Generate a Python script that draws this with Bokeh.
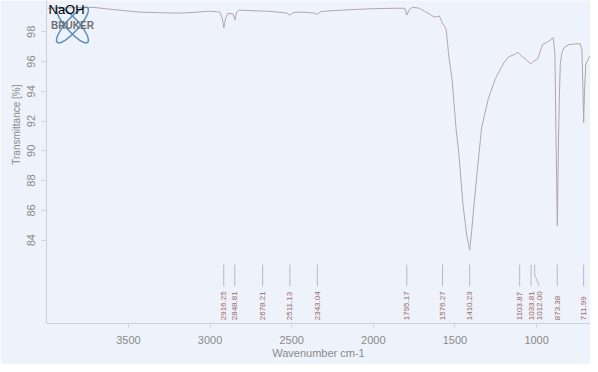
import math
from bokeh.plotting import figure
from bokeh.models import Range1d, FixedTicker, Label, Title
from bokeh.core.properties import value
from bokeh.embed import file_html
from bokeh.resources import INLINE

# ---- data ----
wavenumber = [3994, 3900, 3717, 3600, 3434, 3300, 3193, 3100, 3012, 2960, 2940, 2925,
              2916, 2905, 2890, 2860, 2848, 2838, 2820, 2750, 2650, 2560, 2530, 2511,
              2490, 2470, 2400, 2360, 2343, 2325, 2250, 2108, 2000, 1867, 1807, 1795,
              1780, 1759, 1717, 1687, 1650, 1626, 1596, 1585, 1576, 1565, 1554, 1536,
              1518, 1494, 1476, 1452, 1428, 1410, 1398, 1386, 1367, 1337, 1295, 1253,
              1205, 1175, 1133, 1114, 1100, 1084, 1060, 1036, 1018, 994, 964, 928, 898,
              888, 880, 873, 867, 861, 855, 845, 831, 801, 735, 723, 716, 712, 707, 699, 675]
transmittance = [99.58, 99.60, 99.64, 99.50, 99.32, 99.28, 99.25, 99.30, 99.38, 99.35, 99.30, 98.90,
                 98.26, 98.90, 99.25, 99.20, 98.79, 99.30, 99.45, 99.42, 99.38, 99.30, 99.25, 99.12,
                 99.28, 99.32, 99.30, 99.25, 99.16, 99.35, 99.42, 99.50, 99.55, 99.58, 99.58, 99.12,
                 99.50, 99.64, 99.58, 99.38, 99.15, 98.99, 99.05, 98.80, 98.53, 98.40, 98.13, 96.16,
                 94.84, 91.55, 89.78, 86.49, 84.32, 83.33, 84.60, 86.09, 88.26, 91.55, 93.53, 94.84,
                 95.83, 96.29, 96.49, 96.62, 96.45, 96.29, 96.10, 95.83, 96.03, 96.16, 97.14, 97.34, 97.61,
                 96.50, 90.00, 84.97, 90.00, 93.50, 95.83, 96.60, 96.95, 97.14, 97.21, 96.82, 94.00, 91.88, 94.00, 95.83, 96.36]

peak_positions = [2916.25, 2848.81, 2678.21, 2511.13, 2343.04, 1795.17, 1576.27,
                  1410.23, 1103.87, 1033.81, 1012.00, 873.38, 711.99]
peak_labels = ["2916.25", "2848.81", "2678.21", "2511.13", "2343.04", "1795.17", "1576.27",
               "1410.23", "1103.87", "1033.81", "1012.00", "873.38", "711.99"]

x_ticks = [3500, 3000, 2500, 2000, 1500, 1000]
y_ticks = [84, 86, 88, 90, 92, 94, 96, 98]

# ---- styling / layout ----
BG = "#eef2fa"
AXIS = "#cdd1d8"
TXT = "#8a8a8a"
FONT = "Liberation Sans"
label_shift = [0, 0, 0, 0, 0, 0, 0, 0, 0, 0, -28, 0, 0]  # leader offset for crowded label
LEAD_TOP, LEAD_MID, LEAD_BOT, TEXT_Y = 82.35, 81.69, 80.90, 78.62

p = figure(width=590, height=364, output_backend="svg", toolbar_location=None,
           x_range=Range1d(4002, 670), y_range=Range1d(78.4, 100.1),
           min_border_left=46, min_border_right=0, min_border_top=0, min_border_bottom=41)
p.background_fill_color = BG
p.border_fill_color = BG
p.outline_line_color = None
p.xgrid.visible = False
p.ygrid.visible = False

p.xaxis.ticker = FixedTicker(ticks=x_ticks)
p.yaxis.ticker = FixedTicker(ticks=y_ticks)
for ax in (p.xaxis[0], p.yaxis[0]):
    ax.axis_line_color = AXIS
    ax.major_tick_line_color = AXIS
    ax.minor_tick_line_color = None
    ax.major_tick_in = 0
    ax.major_label_text_color = TXT
    ax.major_label_text_font = FONT
    ax.major_label_text_font_size = "11px"
p.xaxis.major_tick_out = 4
p.xaxis.major_label_standoff = 8
p.xaxis.axis_label = "Wavenumber cm-1"
p.xaxis.axis_label_standoff = 0
p.xaxis.axis_label_text_font = FONT
p.xaxis.axis_label_text_font_size = "11px"
p.xaxis.axis_label_text_font_style = "normal"
p.xaxis.axis_label_text_color = TXT
p.yaxis.major_tick_out = 5
p.yaxis.major_label_standoff = 6
p.yaxis.major_label_orientation = "vertical"

# y axis title as a side title, placed towards the top like the reference
p.add_layout(Title(text="Transmittance [%]", align="right", offset=84, standoff=6,
                   text_font=FONT, text_font_size="10px", text_font_style="normal",
                   text_color=TXT), "left")

# spectrum
p.line(wavenumber, transmittance, line_color="#b2a6a9", line_width=1)

# peak leaders and labels
xs = [[w, w, w + s] for w, s in zip(peak_positions, label_shift)]
ys = [[LEAD_TOP, LEAD_MID, LEAD_BOT] for _ in peak_positions]
p.multi_line(xs, ys, line_color="#b9b9bd", line_width=1)
p.text(x=[w + s for w, s in zip(peak_positions, label_shift)], y=[TEXT_Y] * len(peak_positions),
       text=peak_labels, angle=math.pi / 2, text_align="left", text_baseline="middle",
       text_font=value(FONT), text_font_size="8px", text_color="#9a6868")

# Bruker logo
p.ellipse(x=[3843, 3843], y=[98.45, 98.45], width=[46, 46], height=[13, 13],
          width_units="screen", height_units="screen", angle=[0.85, -0.85],
          fill_color=None, line_color="#5a8fbf", line_width=1.5)
p.add_layout(Label(x=26, y=298, x_units="screen", y_units="screen", text="BRUKER",
                   text_align="center", text_baseline="middle", text_font=FONT,
                   text_font_size="10px", text_font_style="bold", text_color="#6f6f74"))

# sample name (top-left corner)
p.add_layout(Label(x=2, y=322, x_units="screen", y_units="screen", text="NaOH",
                   text_align="left", text_baseline="top", text_font=FONT,
                   text_font_size="13px", text_color="#000000"))

open("out.html", "w").write(file_html(p, INLINE))
